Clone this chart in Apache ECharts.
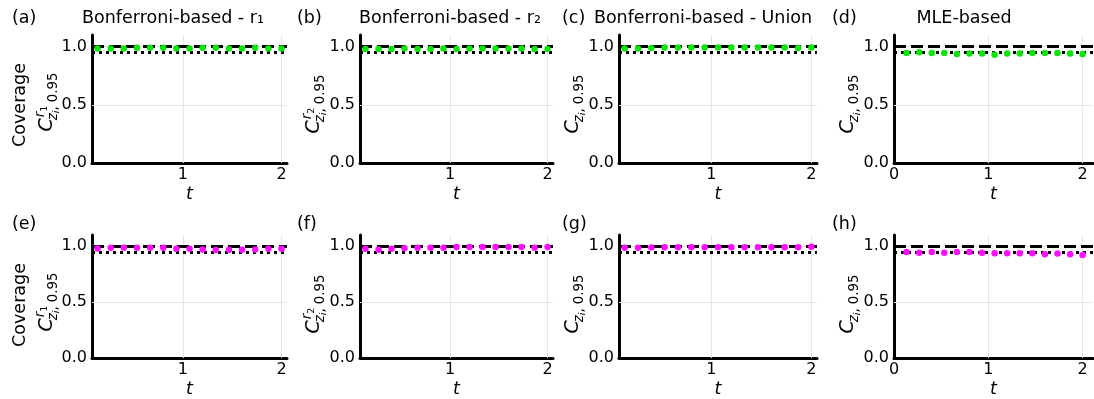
<!DOCTYPE html>
<html>
<head>
<meta charset="utf-8">
<script src="https://cdn.jsdelivr.net/npm/echarts@6/dist/echarts.min.js"></script>
<style>
  html, body { margin: 0; padding: 0; background: #fff; }
  #chart { width: 1094px; height: 399px; }
</style>
</head>
<body>
<div id="chart"></div>
<script>
// ---- data ----
const tValues = [0.133, 0.267, 0.4, 0.533, 0.667, 0.8, 0.933, 1.067, 1.2, 1.333, 1.467, 1.6, 1.733, 1.867, 2.0];

// coverage, first outcome (green)
const covA = [0.985, 0.985, 0.985, 0.99, 0.99, 0.99, 0.985, 0.985, 0.99, 0.99, 0.985, 0.985, 0.99, 0.985, 0.985];
const covB = [0.98, 0.98, 0.98, 0.985, 0.98, 0.98, 0.985, 0.98, 0.985, 0.985, 0.985, 0.985, 0.985, 0.98, 0.98];
const covC = [0.985, 0.985, 0.988, 0.993, 0.993, 0.993, 0.993, 0.993, 0.993, 0.993, 0.993, 0.993, 0.993, 0.988, 0.993];
const covD = [0.945, 0.951, 0.945, 0.945, 0.936, 0.942, 0.942, 0.930, 0.942, 0.942, 0.945, 0.945, 0.945, 0.942, 0.936];
// coverage, second outcome (magenta)
const covE = [0.98, 0.985, 0.985, 0.985, 0.985, 0.985, 0.977, 0.977, 0.971, 0.965, 0.968, 0.968, 0.971, 0.977, 0.977];
const covF = [0.976, 0.968, 0.976, 0.981, 0.987, 0.987, 0.987, 0.992, 0.992, 0.992, 0.992, 0.992, 0.992, 0.987, 0.992];
const covG = [0.985, 0.985, 0.988, 0.99, 0.99, 0.99, 0.99, 0.99, 0.99, 0.99, 0.99, 0.99, 0.99, 0.99, 0.995];
const covH = [0.948, 0.942, 0.948, 0.942, 0.948, 0.948, 0.942, 0.936, 0.936, 0.936, 0.936, 0.928, 0.934, 0.928, 0.922];

const referenceLevels = [1.0, 0.95];   // dashed, dotted
const yTicks = [0, 0.5, 1.0];
const xTicksBonf = [1, 2];
const xTicksMle = [0, 1, 2];
const panelTitles = ['Bonferroni-based - r\u2081', 'Bonferroni-based - r\u2082', 'Bonferroni-based - Union', 'MLE-based'];
const panelLetters = ['(a)', '(b)', '(c)', '(d)', '(e)', '(f)', '(g)', '(h)'];
const supLabels = ['1', '2', null, null];   // superscript index on C per column

// ---- layout ----
const FONT = '"DejaVu Sans"';
const colLeft = [92, 360, 619, 894];
const colRight = [287, 553, 817, 1093];
const rowTop = [35, 235];
const rowBottom = [163, 363];
const titleCenter = [173, 450, 703, 964];
const letterLeft = [12, 297, 562, 832];
const letterY = [18.5, 224.5];
const xRangeBonf = [0.077, 2.056];
const xRangeMle = [0, 2.11];
const GREEN = '#0be30b';
const MAGENTA = '#ff10ff';

const panels = [
  { data: covA, color: GREEN }, { data: covB, color: GREEN }, { data: covC, color: GREEN }, { data: covD, color: GREEN },
  { data: covE, color: MAGENTA }, { data: covF, color: MAGENTA }, { data: covG, color: MAGENTA }, { data: covH, color: MAGENTA }
];

const measureCtx = document.createElement('canvas').getContext('2d');
function textWidth(font, s) { measureCtx.font = font; return measureCtx.measureText(s).width; }

// piece of text positioned by its baseline in local (unrotated) coordinates
function piece(text, x, baseline, size, italic) {
  const font = (italic ? 'italic ' : '') + size + 'px ' + FONT;
  return {
    el: { type: 'text', x: x, y: baseline - 0.3 * size,
          style: { text: text, font: font, fill: '#000', align: 'left', verticalAlign: 'middle' } },
    w: textWidth(font, text)
  };
}

// rotated math label  C^{r_k}_{z_i, 0.95}
function coverageSymbol(cx, cy, supIdx) {
  const S = 19, s = 0.7 * S, ss = 0.5 * S;
  const items = [];
  const c = piece('C', 0, 0, S, true); items.push(c.el);
  let supW = 0;
  if (supIdx) {
    const r = piece('r', c.w + 1, -0.42 * S, s, true); items.push(r.el);
    const k = piece(supIdx, c.w + 1 + r.w, -0.42 * S + 0.14 * S, ss, false); items.push(k.el);
    supW = 1 + r.w + k.w;
  }
  const zx = c.w - 2;
  const z = piece('z', zx, 0.22 * S, s, true); items.push(z.el);
  const i = piece('i', zx + z.w, 0.22 * S + 0.12 * S, ss, true); items.push(i.el);
  const rest = piece(', 0.95', zx + z.w + i.w, 0.22 * S, s, false); items.push(rest.el);
  const subW = -2 + z.w + i.w + rest.w;
  const total = c.w + Math.max(supW, subW);
  items.forEach(e => { e.x -= total / 2; });
  return { type: 'group', x: cx, y: cy, rotation: Math.PI / 2, children: items };
}

function plainRotated(text, cx, cy, size) {
  const p = piece(text, 0, 0, size, false);
  p.el.x -= p.w / 2;
  return { type: 'group', x: cx, y: cy, rotation: Math.PI / 2, children: [p.el] };
}

const grids = [], xAxes = [], yAxes = [], series = [], graphics = [];

panels.forEach((p, idx) => {
  const r = Math.floor(idx / 4), c = idx % 4;
  const mle = c === 3;
  const xr = mle ? xRangeMle : xRangeBonf;
  const xt = mle ? xTicksMle : xTicksBonf;
  grids.push({ left: colLeft[c], width: colRight[c] - colLeft[c], top: rowTop[r], height: rowBottom[r] - rowTop[r] });
  xAxes.push({
    gridIndex: idx, type: 'value', min: xr[0], max: xr[1],
    axisLine: { show: true, onZero: false, lineStyle: { color: '#000', width: 3 } },
    axisTick: { show: false }, splitLine: { show: false },
    axisLabel: { customValues: xt, fontSize: 16, fontFamily: FONT, color: '#000', margin: 4,
                 showMinLabel: true, showMaxLabel: true },
    name: 't', nameLocation: 'middle', nameGap: 22,
    nameTextStyle: { fontStyle: 'italic', fontSize: 17.5, fontFamily: FONT, color: '#000' }
  });
  yAxes.push({
    gridIndex: idx, type: 'value', min: 0, max: 1.1,
    axisLine: { show: true, onZero: false, lineStyle: { color: '#000', width: 3 } },
    axisTick: { show: false }, splitLine: { show: false },
    axisLabel: { customValues: yTicks, formatter: v => v.toFixed(1), fontSize: 16, fontFamily: FONT,
                 color: '#000', margin: 5 }
  });
  // light grid (lines on the axes themselves are covered by the spines)
  series.push({
    type: 'line', xAxisIndex: idx, yAxisIndex: idx, data: [], silent: true, z: 1,
    markLine: {
      silent: true, symbol: ['none', 'none'], label: { show: false }, animation: false,
      lineStyle: { color: '#e6e6e6', width: 1, type: 'solid' },
      data: xt.filter(v => v > xr[0]).map(v => ({ xAxis: v }))
        .concat(yTicks.filter(v => v > 0).map(v => ({ yAxis: v })))
    }
  });
  // nominal coverage reference lines
  series.push({
    type: 'line', xAxisIndex: idx, yAxisIndex: idx, data: [], silent: true, z: 3,
    markLine: {
      silent: true, symbol: ['none', 'none'], label: { show: false }, animation: false,
      data: [
        { yAxis: referenceLevels[0], lineStyle: { color: '#000', width: 3, type: [12, 5] } },
        { yAxis: referenceLevels[1], lineStyle: { color: '#000', width: 3, type: [3, 4] } }
      ]
    }
  });
  series.push({
    type: 'scatter', xAxisIndex: idx, yAxisIndex: idx, z: 5, animation: false,
    symbol: 'circle', symbolSize: 6.5, itemStyle: { color: p.color, opacity: 1 },
    data: tValues.map((t, i) => [t, p.data[i]])
  });

  // panel letter
  graphics.push({ type: 'text', x: letterLeft[c], y: letterY[r],
    style: { text: panelLetters[idx], font: '17.5px ' + FONT, fill: '#000', align: 'left', verticalAlign: 'middle' } });
  // y label
  const axisX = colLeft[c];
  const midY = (rowTop[r] + rowBottom[r]) / 2;
  if (c === 0) {
    graphics.push(plainRotated('Coverage', 26, midY + 6, 17.5));
    graphics.push(coverageSymbol(53, midY + 3, supLabels[c]));
  } else {
    graphics.push(coverageSymbol(axisX - 40, midY + 5, supLabels[c]));
  }
});

// titles on the top row
panelTitles.forEach((t, c) => {
  graphics.push({ type: 'text', x: titleCenter[c], y: letterY[0],
    style: { text: t, font: '17.5px ' + FONT, fill: '#000', align: 'center', verticalAlign: 'middle' } });
});

const chart = echarts.init(document.getElementById('chart'), null, { renderer: 'canvas' });
chart.setOption({
  animation: false,
  backgroundColor: '#fff',
  grid: grids, xAxis: xAxes, yAxis: yAxes, series: series,
  graphic: { elements: graphics }
});
</script>
</body>
</html>
